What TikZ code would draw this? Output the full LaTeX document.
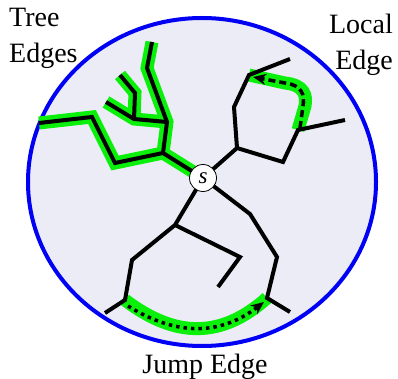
\documentclass[tikz,border=0pt]{standalone}
\usepackage{fontspec}
\setmainfont{Liberation Serif}
\usetikzlibrary{arrows.meta}
\definecolor{bgfill}{RGB}{236,236,246}
\definecolor{hl}{RGB}{10,240,10}
\definecolor{rim}{RGB}{0,0,245}
\tikzset{
  edge/.style={line width=4pt, black},
  glow/.style={line width=13pt, hl},
  lbl/.style={font=\fontsize{28}{36}\selectfont, inner sep=0pt},
}
\begin{document}
\begin{tikzpicture}[x=1pt,y=-1pt]
\useasboundingbox (0,0) rectangle (398,379);
\draw[rim, line width=4pt, fill=bgfill] (202,182) ellipse [x radius=174, y radius=164];
% coordinates
\coordinate (T1) at (39,123);
\coordinate (T2) at (92,117);
\coordinate (T3) at (115,163);
\coordinate (T4) at (163,153);
\coordinate (T5) at (167,122);
\coordinate (T6) at (147,68);
\coordinate (T7) at (152,42);
\coordinate (T8) at (134,119);
\coordinate (T9) at (106,102);
\coordinate (T10) at (135,93);
\coordinate (T11) at (120,75);
\coordinate (L1) at (237,148);
\coordinate (L2) at (234,107);
\coordinate (L3) at (249,75);
\coordinate (L4) at (290,59);
\coordinate (L5) at (283,162);
\coordinate (L6) at (298,130);
\coordinate (L7) at (345,120);
\coordinate (J1) at (175,225);
\coordinate (J2) at (132,260);
\coordinate (J3) at (125,300);
\coordinate (J4) at (105,313);
\coordinate (J5) at (240,257);
\coordinate (J6) at (218,287);
\coordinate (J7) at (250,214);
\coordinate (J8) at (277,257);
\coordinate (J9) at (267,298);
\coordinate (J10) at (290,312);
\coordinate (S) at (203,178);
% green highlights
\draw[glow] (T1) -- (T2) -- (T3) -- (T4) -- (S);
\draw[glow] (T4) -- (T5) -- (T6) -- (T7);
\draw[glow] (T5) -- (T8) -- (T9);
\draw[glow] (T8) -- (T10) -- (T11);
\draw[glow] (L3) -- (285,83) .. controls (304,85) and (307,95) .. (305,106) -- (L6);
\draw[glow] (J3) .. controls (175,338) and (221,339) .. (J9);
% black edges
\draw[edge] (T1) -- (T2) -- (T3) -- (T4) -- (S);
\draw[edge] (T4) -- (T5) -- (T6) -- (T7);
\draw[edge] (T5) -- (T8) -- (T9);
\draw[edge] (T8) -- (T10) -- (T11);
\draw[edge] (S) -- (L1) -- (L2) -- (L3) -- (L4);
\draw[edge] (L1) -- (L5) -- (L6) -- (L7);
\draw[edge] (S) -- (J1) -- (J2) -- (J3) -- (J4);
\draw[edge] (J1) -- (J5) -- (J6);
\draw[edge] (S) -- (J7) -- (J8) -- (J9) -- (J10);
% walk arrows
\draw[line width=3.5pt, dash pattern=on 7pt off 4pt, -{Stealth[length=13pt,width=11pt]}]
  (300,128) -- (303,106) .. controls (305,95) and (302,85) .. (285,83) -- (253,77);
\draw[line width=3.5pt, dash pattern=on 3.5pt off 4pt, -{Stealth[length=13pt,width=11pt]}]
  (128,306) .. controls (176,336) and (220,336) .. (264,302);
% start node
\node[circle, draw, line width=0.8pt, fill=white, minimum size=27pt, inner sep=0pt,
      font=\fontsize{23}{23}\selectfont\itshape] (s) at (S) {s};
% labels
\node[lbl, align=left, anchor=north west] (tree) at (9,8) {Tree\\Edges};
\node[lbl, align=right, anchor=north east] (local) at (393,14) {Local\\Edge};
\node[lbl, anchor=base] (jump) at (205,373) {Jump Edge};
\end{tikzpicture}
\end{document}
